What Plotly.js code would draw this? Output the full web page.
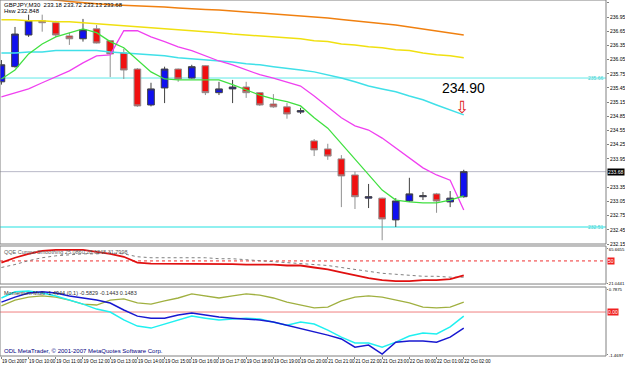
<!DOCTYPE html>
<html><head><meta charset="utf-8">
<script src="https://cdn.plot.ly/plotly-3.0.1.min.js"></script>
<style>html,body{margin:0;padding:0;background:#fff}#chart{width:625px;height:365px}</style>
</head><body><div id="chart"></div>
<script>
// ---- Candles (GBPJPY M30) ----
const open  = [235.58,235.90,236.57,236.87,236.83,236.55,236.49,236.70,236.45,236.19,235.85,235.09,235.45,235.85,235.66,235.92,235.35,235.43,235.47,235.35,235.11,235.05,234.94,234.33,234.16,233.95,233.61,233.12,233.12,232.66,233.06,233.15,233.21,233.04,233.15];
const high  = [236.04,236.74,237.00,237.00,236.87,236.62,236.91,236.78,236.45,236.28,235.87,235.56,235.90,235.86,235.94,235.93,235.58,235.62,235.58,235.36,235.32,235.13,235.03,234.37,234.27,234.03,233.68,233.42,233.13,233.12,233.55,233.25,233.23,233.27,233.72];
const low   = [235.52,235.88,236.53,236.64,236.53,236.36,236.43,236.39,235.68,235.64,235.05,235.06,235.13,235.58,235.65,235.30,235.30,235.13,235.24,235.07,235.03,234.80,234.90,234.01,233.93,232.93,232.89,232.91,232.23,232.51,233.04,233.08,232.81,232.93,233.13];
const close = [235.94,236.59,236.87,236.83,236.57,236.49,236.68,236.40,236.17,235.83,235.07,235.43,235.85,235.64,235.90,235.35,235.43,235.47,235.35,235.09,235.05,234.90,234.97,234.14,234.01,233.59,233.15,233.15,232.68,233.06,233.21,233.17,233.06,233.12,233.68];

// ---- Moving averages ----
const maOrange  = [237.40,237.38,237.36,237.34,237.31,237.28,237.25,237.23,237.21,237.20,237.19,237.17,237.16,237.14,237.12,237.11,237.10,237.08,237.06,237.04,237.02,237.00,236.97,236.95,236.93,236.90,236.87,236.85,236.82,236.78,236.74,236.70,236.66,236.62,236.57];
const maYellow  = [236.89,236.89,236.87,236.87,236.85,236.85,236.83,236.81,236.78,236.76,236.74,236.72,236.70,236.68,236.66,236.64,236.62,236.59,236.57,236.55,236.53,236.51,236.49,236.45,236.43,236.38,236.36,236.32,236.30,236.26,236.24,236.19,236.15,236.13,236.09];
const maCyan    = [236.19,236.19,236.21,236.21,236.24,236.24,236.24,236.24,236.21,236.19,236.17,236.15,236.13,236.09,236.07,236.04,236.02,236.00,235.96,235.94,235.90,235.87,235.83,235.79,235.73,235.66,235.58,235.49,235.43,235.37,235.28,235.20,235.09,234.99,234.88];
const maMagenta = [235.26,235.35,235.43,235.56,235.68,235.81,235.98,236.13,236.15,236.66,236.66,236.53,236.43,236.32,236.24,236.13,236.02,235.94,235.83,235.73,235.66,235.58,235.49,235.28,235.05,234.82,234.65,234.56,234.39,234.18,233.97,233.76,233.61,233.50,232.87];
const maGreen   = [235.64,235.83,236.17,236.38,236.53,236.62,236.70,236.62,236.43,236.30,236.04,235.79,235.64,235.62,235.62,235.62,235.62,235.52,235.41,235.30,235.22,235.16,235.07,234.82,234.60,234.27,233.93,233.61,233.29,233.08,233.04,233.02,233.02,233.08,233.17];

// ---- QQE panel ----
const qqeMain = [47.8,54.2,59.3,63.1,64.4,64.4,64.4,61.8,59.3,55.5,47.8,46.6,46.6,46.6,46.6,46.6,46.6,45.9,45.3,45.3,45.3,44.0,44.0,41.4,38.9,35.1,31.2,27.4,24.9,23.6,23.6,24.9,24.9,26.1,31.2];
const qqeSlow = [41.4,45.3,50.4,54.2,56.7,58.0,59.3,59.3,60.6,59.3,55.5,54.2,54.2,54.2,54.2,54.2,52.9,52.9,51.6,50.4,49.1,47.8,46.6,45.3,44.0,41.4,38.9,36.3,33.8,32.5,31.2,29.9,29.9,28.7,28.7];
const qqeLevel = 50;

// ---- Momentum panel ----
const momBlue  = [0.34,0.51,0.65,0.69,0.65,0.55,0.48,0.41,0.31,0.07,-0.14,-0.21,-0.21,-0.10,-0.03,-0.10,-0.17,-0.21,-0.24,-0.27,-0.34,-0.45,-0.58,-0.69,-0.79,-0.92,-1.20,-1.13,-1.44,-1.03,-0.99,-0.99,-1.03,-0.86,-0.55];
const momCyan  = [0.48,0.69,0.72,0.65,0.55,0.41,0.27,0.10,0.00,-0.27,-0.48,-0.55,-0.41,-0.27,-0.14,-0.21,-0.27,-0.24,-0.21,-0.24,-0.34,-0.45,-0.34,-0.41,-0.62,-0.86,-1.06,-1.06,-1.20,-1.03,-0.82,-0.72,-0.75,-0.51,-0.14];
const momOlive = [0.21,0.41,0.51,0.55,0.51,0.41,0.27,0.24,0.41,0.45,0.31,0.27,0.38,0.48,0.62,0.55,0.48,0.55,0.62,0.58,0.48,0.34,0.24,0.14,0.17,0.38,0.51,0.55,0.51,0.41,0.31,0.17,0.14,0.17,0.34];
const momLevel = 0;

// ---- Levels & labels ----
const levelHigh = 235.66;
const levelLow = 232.51;
const alertValue = 234.90;
const tickIdx = [0,2,4,6,8,10,12,14,16,18,20,22,24,26,28,30,32,34];
const tickLabels = ["19 Oct 2007","19 Oct 10:00","19 Oct 11:00","19 Oct 12:00","19 Oct 13:00","19 Oct 14:00","19 Oct 15:00","19 Oct 16:00","19 Oct 17:00","19 Oct 18:00","19 Oct 19:00","19 Oct 20:00","21 Oct 21:00","21 Oct 22:00","21 Oct 23:00","22 Oct 00:00","22 Oct 01:00","22 Oct 02:00"];
const priceTicks = [237.25,236.95,236.65,236.35,236.05,235.75,235.45,235.15,234.85,234.55,234.25,233.95,233.35,233.05,232.75,232.45,232.15];
const qqeTicks = [65.6655,21.0441];
const momTicks = [0.7875,-1.4697];

const bars = close.map((_, i) => i);
const last = close.length - 1;

function line(y, color, width, axis, dash) {
  return {type:'scatter', mode:'lines', x:bars, y:y, yaxis:axis, hoverinfo:'skip',
          line:{color:color, width:width, dash:dash||'solid'}, showlegend:false};
}

const traces = [
  {type:'candlestick', x:bars, open:open, high:high, low:low, close:close, yaxis:'y',
   increasing:{fillcolor:'#1010F0', line:{color:'#404040', width:1}},
   decreasing:{fillcolor:'#F01010', line:{color:'#909090', width:1}},
   whiskerwidth:0, hoverinfo:'skip', showlegend:false},
  line(maOrange, '#F08010', 1.5, 'y'),
  line(maYellow, '#F0E010', 1.5, 'y'),
  line(maCyan, '#40E0E8', 1.5, 'y'),
  line(maMagenta, '#F040F0', 1.3, 'y'),
  line(maGreen, '#40E040', 1.3, 'y'),
  line(qqeSlow, '#808080', 1, 'y2', 'dot'),
  line(qqeMain, '#E01010', 1.8, 'y2'),
  line(momOlive, '#A0B040', 1.3, 'y3'),
  line(momCyan, '#20F0F0', 1.5, 'y3'),
  line(momBlue, '#1818D0', 1.5, 'y3')
];

const gray = '#808080';
const FF = 'Liberation Sans Narrow, Liberation Sans, Arial, sans-serif';
const tf = {family:FF, size:5, color:'#000'};
const tf4 = {family:FF, size:4.3, color:'#000'};
const xf = {family:FF, size:4.6, color:'#000'};
const dMain = [0.3146, 1], dQqe = [0.2022, 0.309], dMom = [0, 0.1938];

const layout = {
  width:625, height:365,
  margin:{l:0, r:19, t:0, b:9, pad:0},
  paper_bgcolor:'#fff', plot_bgcolor:'#fff', showlegend:false,
  font:tf,
  xaxis:{domain:[0,1], anchor:'y3', range:[-0.103, 44.46], tickmode:'array', tickvals:tickIdx, ticktext:tickLabels,
         tickangle:0, ticks:'outside', ticklen:2, tickcolor:gray, ticklabelposition:'outside right', tickfont:xf,
         showgrid:false, zeroline:false, showline:false, rangeslider:{visible:false}, fixedrange:true, automargin:false},
  yaxis:{domain:dMain, anchor:'x', side:'right', range:[232.15, 237.31], tickmode:'array', tickvals:priceTicks,
         ticktext:priceTicks.map(v => v.toFixed(2)), ticks:'outside', ticklen:2, tickcolor:gray, tickfont:tf,
         showgrid:false, zeroline:false, showline:false, automargin:false},
  yaxis2:{domain:dQqe, anchor:'x', side:'right', range:[19.73, 69.60], tickmode:'array', tickvals:qqeTicks,
         ticktext:qqeTicks.map(v => v.toFixed(4)), ticks:'outside', ticklen:1, tickcolor:gray, tickfont:tf4,
         showgrid:false, zeroline:false, showline:false, automargin:false},
  yaxis3:{domain:dMom, anchor:'x', side:'right', range:[-1.504, 0.856], tickmode:'array', tickvals:momTicks,
         ticktext:momTicks.map(v => v.toFixed(4)), ticks:'outside', ticklen:1, tickcolor:gray, tickfont:tf4,
         showgrid:false, zeroline:false, showline:false, automargin:false},
  shapes:[
    {type:'line', xref:'paper', x0:0, x1:1, yref:'y', y0:levelHigh, y1:levelHigh, line:{color:'#60E8E8', width:1}, layer:'below'},
    {type:'line', xref:'paper', x0:0, x1:1, yref:'y', y0:levelLow, y1:levelLow, line:{color:'#90F0F0', width:2}, layer:'below'},
    {type:'line', xref:'paper', x0:0, x1:1, yref:'y', y0:close[last], y1:close[last], line:{color:'#B8B8C8', width:1}, layer:'below'},
    {type:'line', xref:'paper', x0:0, x1:1, yref:'y2', y0:qqeLevel, y1:qqeLevel, line:{color:'#F03030', width:1, dash:'dot'}, layer:'below'},
    {type:'line', xref:'paper', x0:0, x1:1, yref:'y3', y0:momLevel, y1:momLevel, line:{color:'#F08080', width:1}, layer:'below'},
    {type:'rect', xref:'paper', x0:0, x1:1, yref:'paper', y0:dMain[0], y1:dMain[1], line:{color:gray, width:1}},
    {type:'rect', xref:'paper', x0:0, x1:1, yref:'paper', y0:dQqe[0], y1:dQqe[1], line:{color:gray, width:1}},
    {type:'rect', xref:'paper', x0:0, x1:1, yref:'paper', y0:dMom[0], y1:dMom[1], line:{color:gray, width:1}}
  ],
  annotations:[
    {xref:'paper', yref:'paper', x:0.004, y:1, xanchor:'left', yanchor:'top', showarrow:false,
     text:'GBPJPY,M30  233.18 233.72 233.13 233.68', font:{family:FF, size:6, color:'#000'}},
    {xref:'paper', yref:'paper', x:0.004, y:0.982, xanchor:'left', yanchor:'top', showarrow:false,
     text:'Hsw 232.848', font:{family:FF, size:6, color:'#000'}},
    {xref:'x', yref:'y', x:last, y:235.45, xanchor:'center', yanchor:'middle', showarrow:false,
     text:alertValue.toFixed(2), font:{family:'Liberation Sans, Arial, sans-serif', size:14, color:'#000'}},
    {xref:'x', yref:'y', x:last - 0.15, y:235.05, xanchor:'center', yanchor:'middle', showarrow:false,
     text:'⇩', font:{family:'DejaVu Sans, sans-serif', size:17, color:'#E02020'}},
    {xref:'paper', yref:'y', x:1.002, y:close[last], xanchor:'left', yanchor:'middle', showarrow:false,
     text:close[last].toFixed(2), bgcolor:'#000', borderpad:0, font:{family:FF, size:5, color:'#fff'}},
    {xref:'paper', yref:'y', x:1, y:levelHigh, xanchor:'right', yanchor:'middle', showarrow:false,
     text:levelHigh.toFixed(2), font:{family:FF, size:5, color:'#40D0D0'}},
    {xref:'paper', yref:'y', x:1, y:levelLow, xanchor:'right', yanchor:'middle', showarrow:false,
     text:levelLow.toFixed(2), font:{family:FF, size:5, color:'#40D0D0'}},
    {xref:'paper', yref:'y2', x:1.002, y:qqeLevel, xanchor:'left', yanchor:'middle', showarrow:false,
     text:String(qqeLevel), bgcolor:'#F02020', borderpad:0, font:{family:FF, size:5, color:'#fff'}},
    {xref:'paper', yref:'y3', x:1.002, y:momLevel, xanchor:'left', yanchor:'middle', showarrow:false,
     text:momLevel.toFixed(2), bgcolor:'#F02020', borderpad:0, font:{family:FF, size:5, color:'#fff'}},
    {xref:'paper', yref:'paper', x:0.004, y:dQqe[1] - 0.004, xanchor:'left', yanchor:'top', showarrow:false,
     text:'QQE Cumpo Smoothing 25.0860 28.6848 31.7998', font:{family:FF, size:5.5, color:'#606060'}},
    {xref:'paper', yref:'paper', x:0.004, y:dMom[1] - 0.004, xanchor:'left', yanchor:'top', showarrow:false,
     text:'Momentum-Multi -1.4944 (0.1) -0.5829 -0.1443 0.1483', font:{family:FF, size:5.5, color:'#303030'}},
    {xref:'paper', yref:'paper', x:0.004, y:0.0, xanchor:'left', yanchor:'bottom', showarrow:false,
     text:'ODL MetaTrader, © 2001-2007 MetaQuotes Software Corp.', font:{family:FF, size:6, color:'#000080'}}
  ]
};

Plotly.newPlot('chart', traces, layout, {staticPlot:true, displayModeBar:false});
</script>
</body></html>
